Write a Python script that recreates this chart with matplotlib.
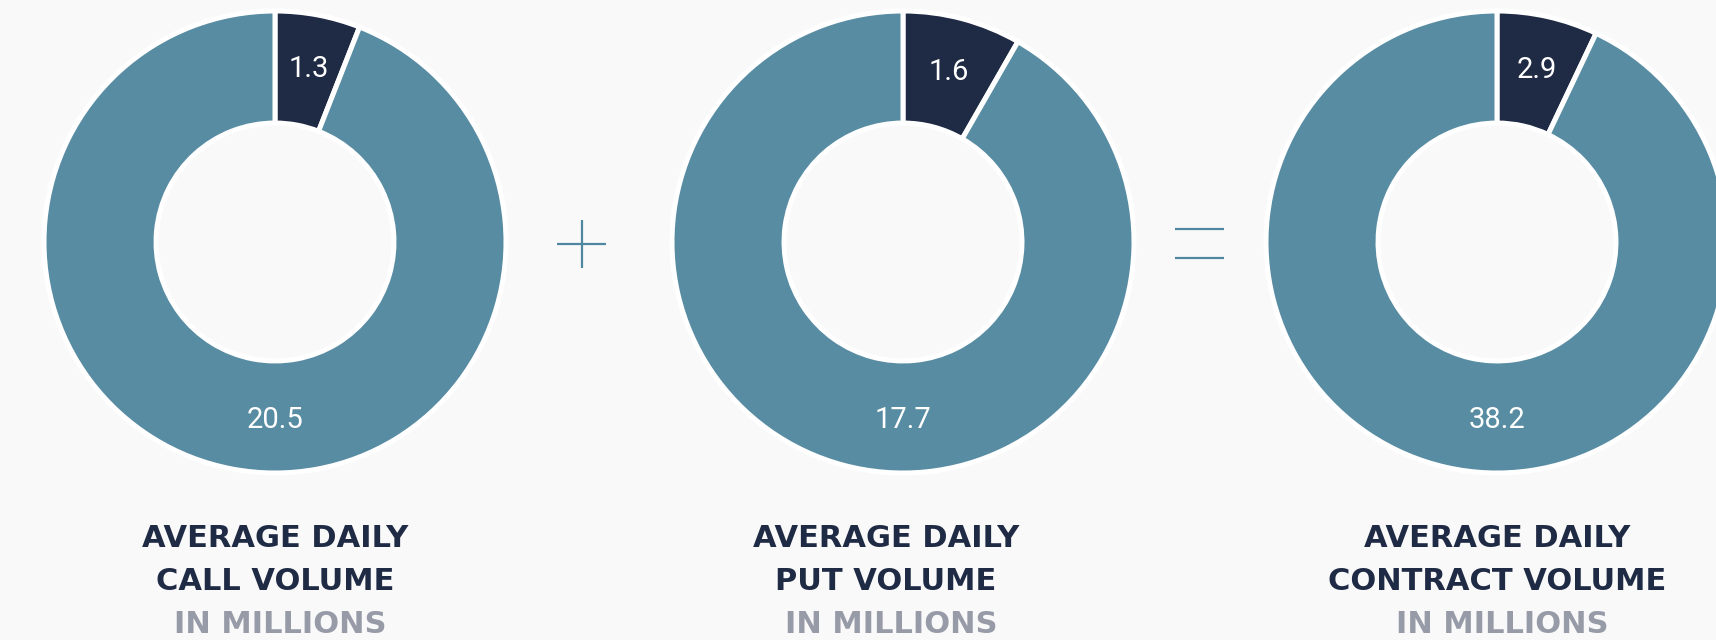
import matplotlib
matplotlib.use("Agg")
import matplotlib.pyplot as plt
import numpy as np


# Values (millions of contracts per day)
small = [1.3, 1.6, 2.9]
large = [20.5, 17.7, 38.2]
title_top = ["AVERAGE DAILY", "AVERAGE DAILY", "AVERAGE DAILY"]
title_mid = ["CALL VOLUME", "PUT VOLUME", "CONTRACT VOLUME"]
unit = "IN MILLIONS"

# Colours
BG = "#f9f9f9"
TEAL = "#588ca3"
NAVY = "#1f2a44"
GREY = "#969ba7"
SIGN = "#4f87a1"

# Layout in pixels
W, H = 1716, 640
R = 231
cy = 242
centers_x = [275, 903, 1497]
text_x = [275, 886, 1497]
hole = 0.515

fig = plt.figure(figsize=(W / 100, H / 100), dpi=100, facecolor=BG)

# overlay in pixel coordinates for the + and = signs
ov = fig.add_axes([0, 0, 1, 1])
ov.set_xlim(0, W)
ov.set_ylim(H, 0)
ov.axis("off")
ov.plot([557, 606], [244, 244], color=SIGN, lw=1.6, solid_capstyle="butt")
ov.plot([581.5, 581.5], [219.5, 268], color=SIGN, lw=1.6, solid_capstyle="butt")
ov.plot([1175, 1224], [229, 229], color=SIGN, lw=1.6, solid_capstyle="butt")
ov.plot([1175, 1224], [258, 258], color=SIGN, lw=1.6, solid_capstyle="butt")

lab_off = 11 / R  # half digit height in axes units

for i in range(3):
    cx = centers_x[i]
    ax = fig.add_axes([(cx - R) / W, (H - cy - R) / H, 2 * R / W, 2 * R / H])
    wedges, _ = ax.pie(
        [small[i], large[i]],
        colors=[NAVY, TEAL],
        startangle=90,
        counterclock=False,
        radius=1,
        wedgeprops=dict(width=1 - hole, edgecolor="white", linewidth=3.6, clip_on=False),
    )
    ax.set_xlim(-1, 1)
    ax.set_ylim(-1, 1)
    ax.axis("off")

    w = wedges[0]
    mid = np.deg2rad(0.5 * (w.theta1 + w.theta2))
    r_lab = 0.775
    ax.text(r_lab * np.cos(mid), r_lab * np.sin(mid) - lab_off, f"{small[i]:.1f}",
            ha="center", va="baseline", color="white", fontsize=21, family="Roboto")
    ax.text(0, -0.758 - lab_off, f"{large[i]:.1f}",
            ha="center", va="baseline", color="white", fontsize=21, family="Roboto")

    tx = text_x[i] / W
    fig.text(tx, 1 - 547 / H, title_top[i], ha="center", va="baseline",
             color=NAVY, fontsize=22, family="DejaVu Sans", weight="bold")
    fig.text(tx, 1 - 590 / H, title_mid[i], ha="center", va="baseline",
             color=NAVY, fontsize=22, family="DejaVu Sans", weight="bold")
    fig.text(tx + 5 / W, 1 - 633 / H, unit, ha="center", va="baseline",
             color=GREY, fontsize=22, family="DejaVu Sans", weight="bold")

fig.savefig("out.png", dpi=100, facecolor=BG)
